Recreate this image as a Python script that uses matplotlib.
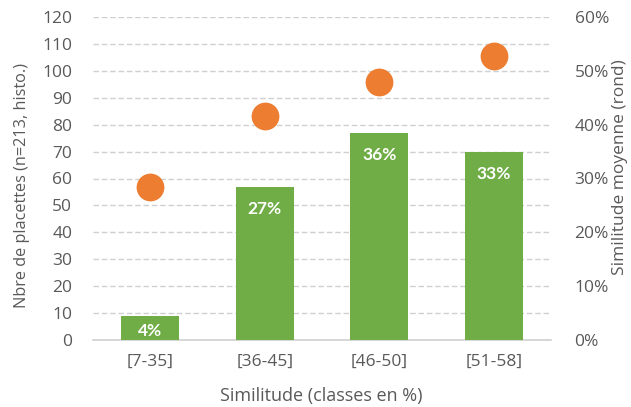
import matplotlib
matplotlib.use("Agg")
import matplotlib.pyplot as plt
from matplotlib.ticker import FuncFormatter

categories = ["[7-35]", "[36-45]", "[46-50]", "[51-58]"]
counts = [9, 57, 77, 70]
count_labels = ["4%", "27%", "36%", "33%"]
mean_sim = [28.5, 41.7, 47.9, 52.8]

plt.rcParams['font.family'] = ['Open Sans', 'DejaVu Sans']
gray = '#595959'
W, H = 631, 407

fig = plt.figure(figsize=(W/100, H/100), dpi=100)
ax = fig.add_axes([93/W, 1-340/H, (551-93)/W, (340-17)/H])
ax2 = ax.twinx()

x = list(range(len(categories)))
bars = ax.bar(x, counts, width=0.51, color='#70AD47', zorder=3)
for b, lab in zip(bars, count_labels):
    h = b.get_height()
    ypos = h - 8.3 if h > 20 else h / 2 - 1
    ax.text(b.get_x() + b.get_width()/2, ypos, lab,
            ha='center', va='center', color='white', fontsize=12.5, fontweight='bold',
            family=['Lato', 'DejaVu Sans'], zorder=4)

ax.set_ylim(0, 120)
ax.set_yticks(range(0, 121, 10))
ax.set_xlim(-0.5, 3.5)
ax.set_xticks(x)
ax.set_xticklabels(categories)
ax.grid(axis='y', color='#D0D0D0', linestyle=(0, (4, 2)), linewidth=1, zorder=0)
ax.set_axisbelow(True)

ax2.scatter(x, mean_sim, s=400, color='#ED7D31', zorder=5, linewidths=0)
ax2.set_ylim(0, 60)
ax2.set_yticks(range(0, 61, 10))
ax2.yaxis.set_major_formatter(FuncFormatter(lambda v, p: f"{int(v)}%"))

for a in (ax, ax2):
    for s in a.spines.values():
        s.set_visible(False)
    a.tick_params(length=0, labelsize=12.5, labelcolor=gray)
ax.spines['bottom'].set_visible(True)
ax.spines['bottom'].set_color('#D0D0D0')
ax.spines['bottom'].set_linewidth(1.2)
ax.tick_params(axis='y', pad=15)
ax.tick_params(axis='x', pad=10)
ax2.tick_params(axis='y', pad=17)

fig.text(321/W, 1-396/H, "Similitude (classes en %)", fontsize=13, color=gray,
         ha='center', va='center')
fig.text(22/W, 1-186/H, "Nbre de placettes (n=213, histo.)", fontsize=11.7, color=gray,
         ha='center', va='center', rotation=90)
fig.text(620/W, 1-167/H, "Similitude moyenne (rond)", fontsize=12.5, color=gray,
         ha='center', va='center', rotation=90)

fig.savefig("out.png", dpi=100)
